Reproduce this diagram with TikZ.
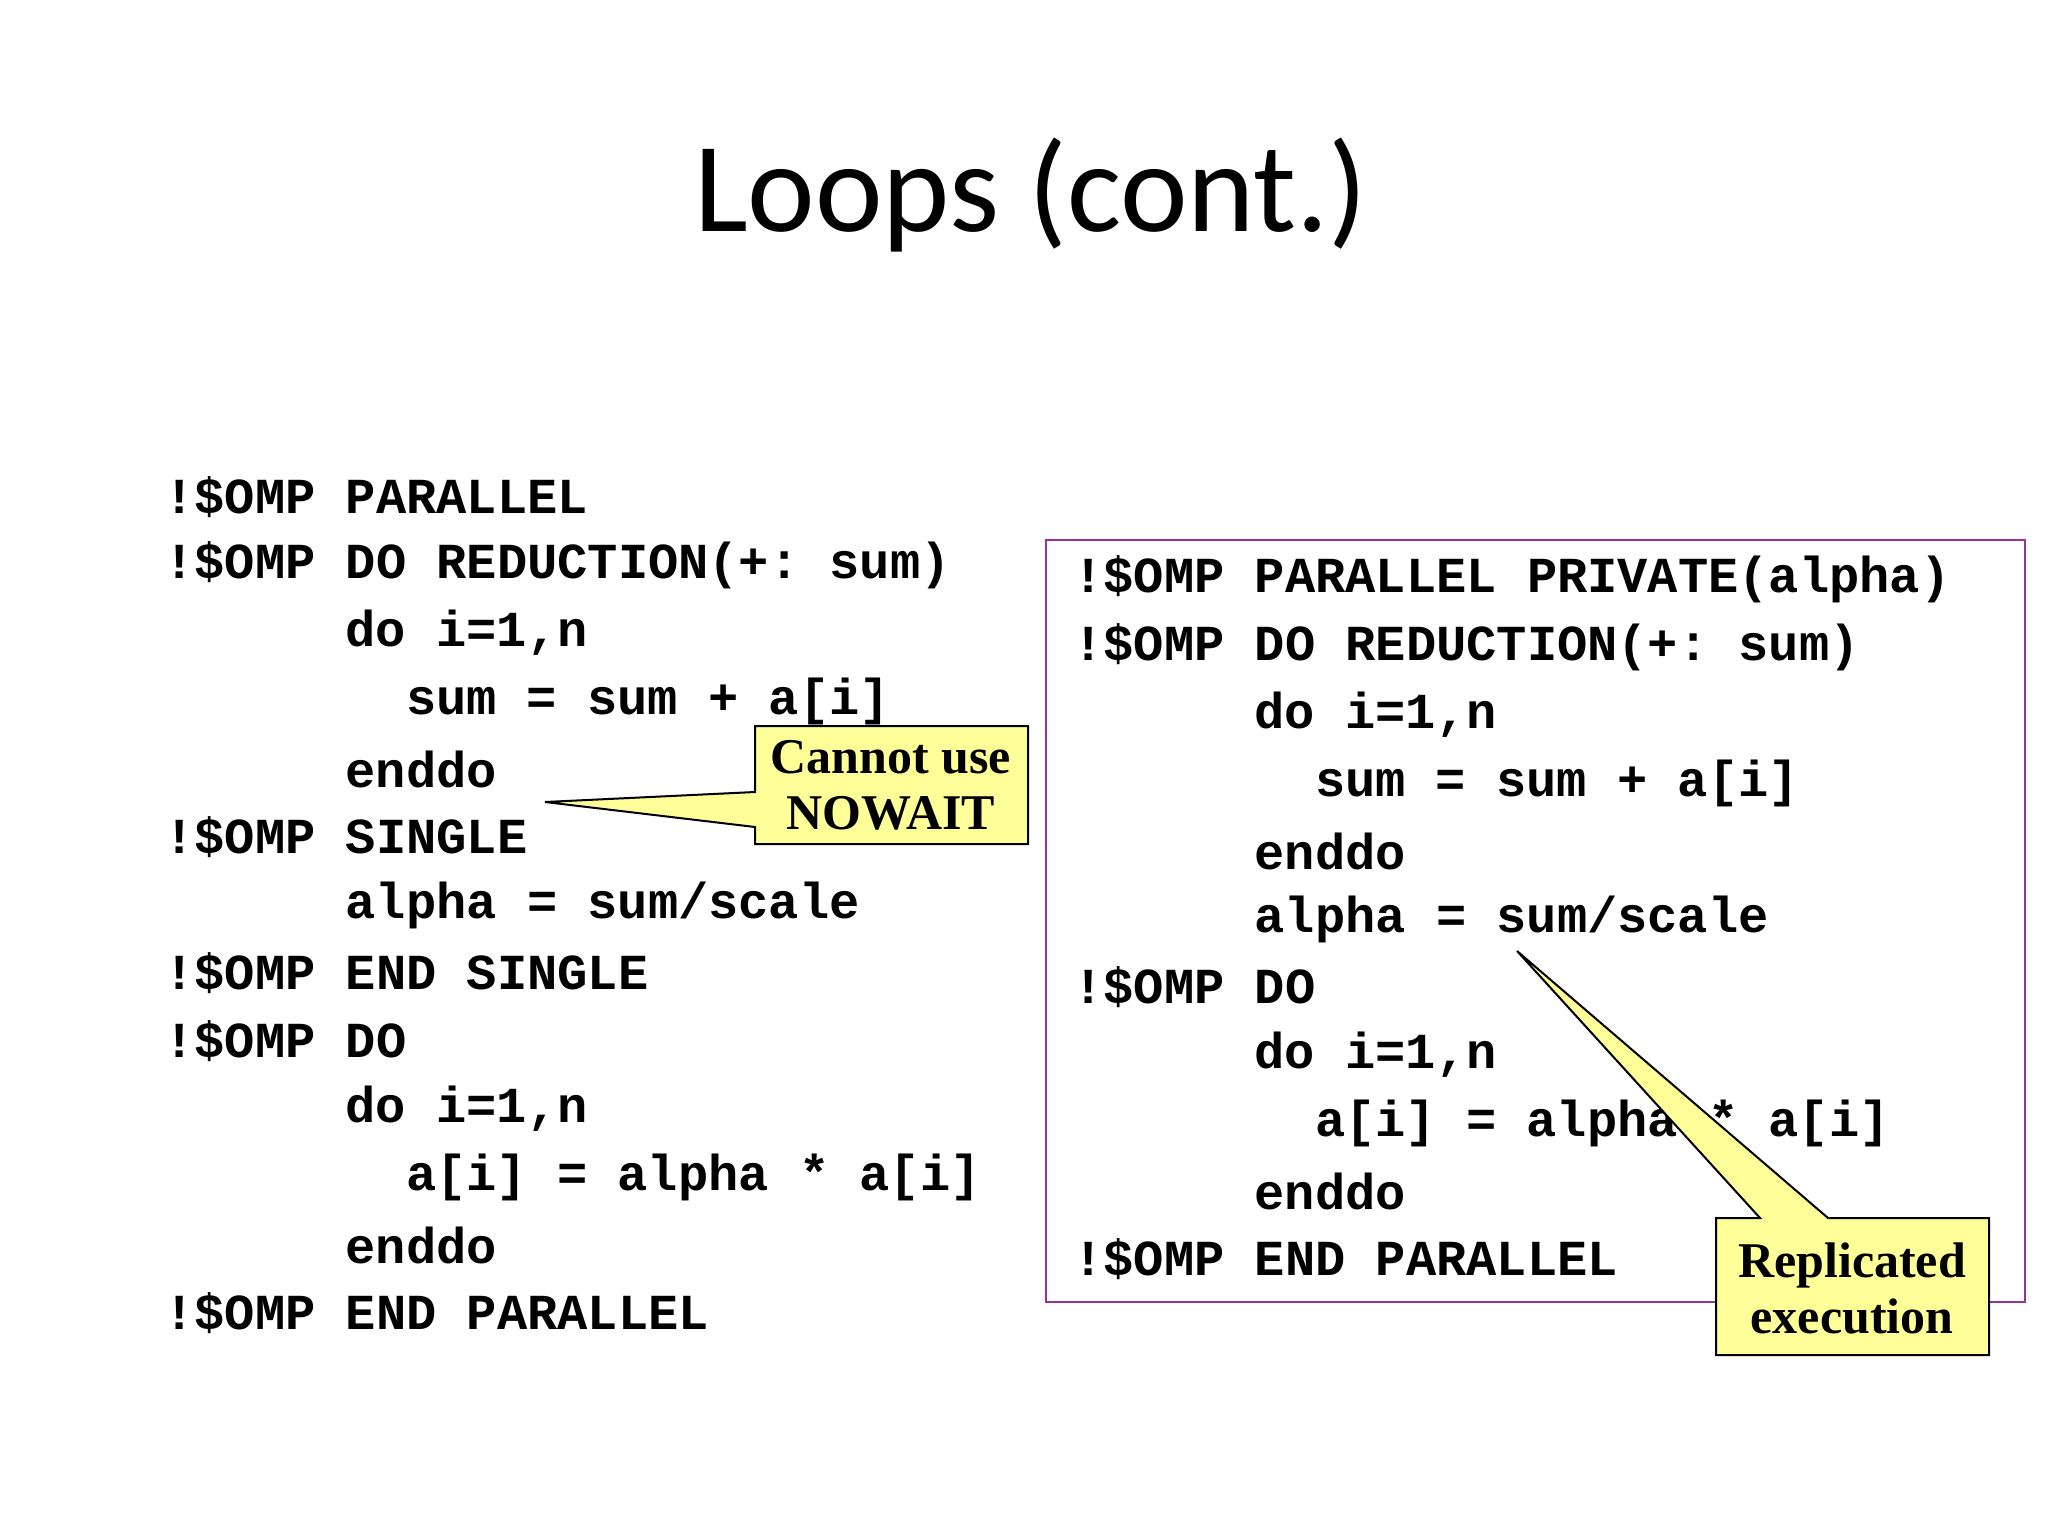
\documentclass[tikz,border=0pt]{standalone}
\usepackage{fontspec}
\setmainfont{Liberation Serif}
\setmonofont{Liberation Mono}
\newfontfamily\titlefont{Carlito}
\definecolor{calloutfill}{HTML}{FFFF99}
\definecolor{framecol}{HTML}{993399}
\tikzset{code/.style={anchor=west,inner sep=0pt,font=\ttfamily\bfseries\fontsize{25.2}{30}\selectfont},
callout/.style={draw=black,fill=calloutfill,line width=1pt},
ctext/.style={font=\bfseries\fontsize{25}{28}\selectfont,align=center,inner sep=0pt}}
\begin{document}
\begin{tikzpicture}[x=0.5pt,y=-0.5pt]
\useasboundingbox[fill=white] (0,0) rectangle (2048,1536);
\node[font=\titlefont\fontsize{64}{70}\selectfont] (title) at (1031,195) {Loops (cont.)};
% left code
\def\cw{30.2}
\foreach \c/\r/\t [count=\k] in {0/0/{!\$OMP PARALLEL},0/1/{!\$OMP DO REDUCTION(+: sum)},6/2/{do i=1,n},8/3/{sum = sum + a[i]},6/4/{enddo},0/5/{!\$OMP SINGLE},6/6/{alpha = sum/scale},0/7/{!\$OMP END SINGLE},0/8/{!\$OMP DO},6/9/{do i=1,n},8/10/{a[i] = alpha * a[i]},6/11/{enddo},0/12/{!\$OMP END PARALLEL}}
  \node[code] (L\k) at ({164+\c*\cw},{497+\r*68}) {\t};
% right frame
\draw[framecol,line width=1.2pt] (1046,540) rectangle (2025,1302);
\foreach \c/\r/\t [count=\k] in {0/0/{!\$OMP PARALLEL PRIVATE(alpha)},0/1/{!\$OMP DO REDUCTION(+: sum)},6/2/{do i=1,n},8/3/{sum = sum + a[i]},6/4/{enddo},6/5/{alpha = sum/scale},0/6/{!\$OMP DO},6/7/{do i=1,n},8/8/{a[i] = alpha * a[i]},6/9/{enddo},0/10/{!\$OMP END PARALLEL}}
  \node[code] (R\k) at ({1073+\c*\cw},{579+\r*68}) {\t};
% callout 1
\coordinate (t1) at (545,802);
\draw[callout] (755,726) -- (1028,726) -- (1028,844) -- (755,844) -- (755,827) -- (t1) -- (755,792) -- cycle;
\node[ctext] (c1) at (891,785) {Cannot use\\NOWAIT};
% callout 2
\coordinate (t2) at (1517,951);
\draw[callout] (1716,1218) -- (1760,1218) -- (t2) -- (1828,1218) -- (1989,1218) -- (1989,1355) -- (1716,1355) -- cycle;
\node[ctext] (c2) at (1852,1288) {Replicated\\execution};
\end{tikzpicture}
\end{document}
